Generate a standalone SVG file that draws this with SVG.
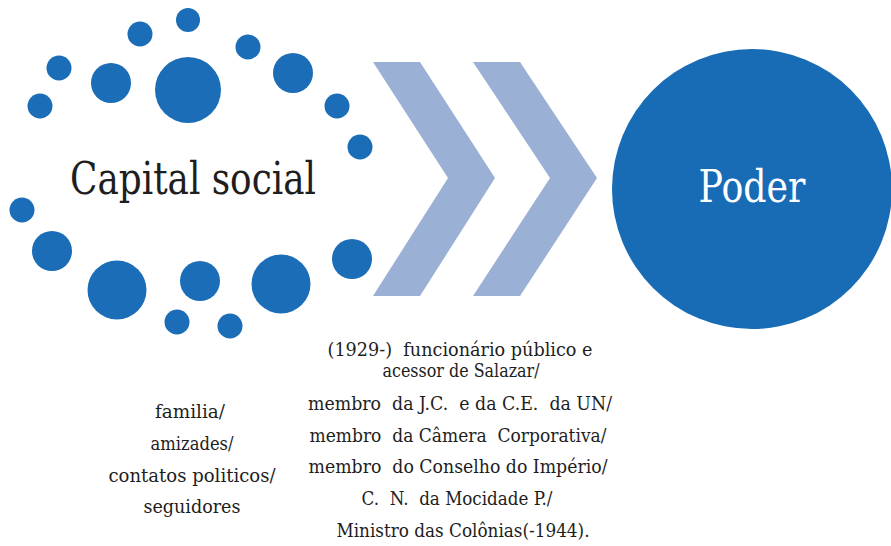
<svg xmlns="http://www.w3.org/2000/svg" width="891" height="546" viewBox="0 0 891 546">
<style>
.dot{fill:#1A6DB6}
.chev{fill:#9BB0D5}
.t{font-family:'DejaVu Serif',serif;fill:#1E1E1E;text-anchor:middle;white-space:pre}
.s{font-size:18px}
</style>
<rect width="891" height="546" fill="#FFFFFF"/>
<g id="capital-social">
<circle class="dot" cx="188" cy="20" r="12"/>
<circle class="dot" cx="140" cy="34" r="12.5"/>
<circle class="dot" cx="248" cy="47" r="12.5"/>
<circle class="dot" cx="59" cy="68" r="12.5"/>
<circle class="dot" cx="111" cy="83" r="20"/>
<circle class="dot" cx="188" cy="90" r="33"/>
<circle class="dot" cx="293" cy="73" r="20"/>
<circle class="dot" cx="40" cy="106" r="12.5"/>
<circle class="dot" cx="337" cy="106" r="12.5"/>
<circle class="dot" cx="360" cy="147" r="12.5"/>
<circle class="dot" cx="22" cy="210" r="12.5"/>
<circle class="dot" cx="52" cy="251" r="20"/>
<circle class="dot" cx="117" cy="290" r="29.5"/>
<circle class="dot" cx="200" cy="281" r="20"/>
<circle class="dot" cx="281" cy="284" r="29.5"/>
<circle class="dot" cx="352" cy="259" r="20"/>
<circle class="dot" cx="177" cy="322" r="12.5"/>
<circle class="dot" cx="230" cy="326" r="12.5"/>
<text class="t" x="193" y="194" font-size="44" textLength="246" lengthAdjust="spacingAndGlyphs">Capital social</text>
</g>
<g id="connectors">
<polygon class="chev" points="373,62 420,62 495,178 420,296 373,296 448,178"/>
<polygon class="chev" points="473,62 520,62 597,178 520,296 473,296 550,178"/>
</g>
<g id="poder">
<circle cx="752" cy="189" r="140" fill="#176CB5"/>
<text class="t" x="752" y="202" font-size="44" style="fill:#FFFFFF" textLength="107" lengthAdjust="spacingAndGlyphs">Poder</text>
</g>
<g id="capital-label">
<text class="t s" x="190" y="418" textLength="70" lengthAdjust="spacingAndGlyphs">familia/</text>
<text class="t s" x="192" y="450" textLength="83" lengthAdjust="spacingAndGlyphs">amizades/</text>
<text class="t s" x="192" y="482" textLength="167" lengthAdjust="spacingAndGlyphs">contatos politicos/</text>
<text class="t s" x="192" y="513" textLength="97" lengthAdjust="spacingAndGlyphs">seguidores</text>
</g>
<g id="career-label">
<text class="t s" x="460" y="356" textLength="265" lengthAdjust="spacingAndGlyphs">(1929-)  funcionário público e</text>
<text class="t s" x="461" y="377" textLength="157" lengthAdjust="spacingAndGlyphs">acessor de Salazar/</text>
<text class="t s" x="460" y="410" textLength="304" lengthAdjust="spacingAndGlyphs">membro  da J.C.  e da C.E.  da UN/</text>
<text class="t s" x="458" y="442" textLength="297" lengthAdjust="spacingAndGlyphs">membro  da Câmera  Corporativa/</text>
<text class="t s" x="458" y="473" textLength="299" lengthAdjust="spacingAndGlyphs">membro  do Conselho do Império/</text>
<text class="t s" x="457" y="505" textLength="191" lengthAdjust="spacingAndGlyphs">C.  N.  da Mocidade P./</text>
<text class="t s" x="463" y="537" textLength="253" lengthAdjust="spacingAndGlyphs">Ministro das Colônias(-1944).</text>
</g>
</svg>
